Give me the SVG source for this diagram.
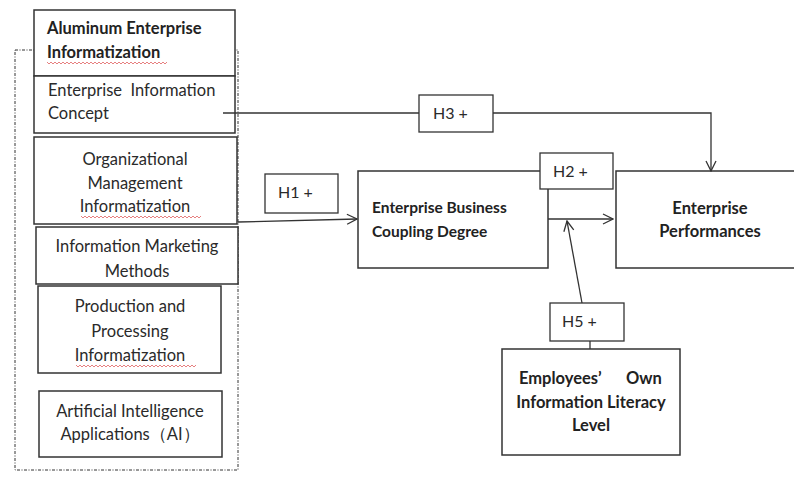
<svg xmlns="http://www.w3.org/2000/svg" width="794" height="477" viewBox="0 0 794 477">
<defs>
<marker id="arr" viewBox="0 0 12 12" refX="11" refY="6" markerWidth="12" markerHeight="12" markerUnits="userSpaceOnUse" orient="auto">
<path d="M1,1 L11,6 L1,11" fill="none" stroke="#333" stroke-width="1.3"/>
</marker>
<path id="sqg" d="M0,0 l2,2 l2,-2 l2,2 l2,-2 l2,2 l2,-2 l2,2 l2,-2 l2,2 l2,-2 l2,2 l2,-2 l2,2 l2,-2 l2,2 l2,-2 l2,2 l2,-2 l2,2 l2,-2 l2,2 l2,-2 l2,2 l2,-2 l2,2 l2,-2 l2,2 l2,-2 l2,2 l2,-2 l2,2 l2,-2 l2,2 l2,-2 l2,2 l2,-2 l2,2 l2,-2 l2,2 l2,-2 l2,2 l2,-2 l2,2 l2,-2 l2,2 l2,-2 l2,2 l2,-2 l2,2 l2,-2 l2,2 l2,-2 l2,2 l2,-2 l2,2 l2,-2 l2,2 l2,-2 l2,2 l2,-2" fill="none" stroke="#e06060" stroke-width="0.8"/>
</defs>
<style>
.box{fill:#fff;stroke:#333;stroke-width:1.5}
.lab{fill:#fff;stroke:#333;stroke-width:1.3}
.t{font-family:Lato,"Open Sans",sans-serif;font-size:16.5px;fill:#2a2a2a}
.b{font-family:Lato,"Open Sans",sans-serif;font-size:16.5px;font-weight:bold;fill:#222}
.h{font-family:Lato,"Open Sans",sans-serif;font-size:16px;fill:#2a2a2a}
.c{text-anchor:middle}
.ln{fill:none;stroke:#333;stroke-width:1.3}
</style>
<rect width="794" height="477" fill="#fff"/>
<g id="group-frame">
<rect x="15" y="50" width="223" height="420" fill="none" stroke="#333" stroke-width="1" stroke-dasharray="3,1.5,1,1.5"/>
</g>
<g id="node-aluminum">
<rect class="box" x="34" y="10" width="201" height="66"/>
<text class="b" x="47" y="34">Aluminum Enterprise</text>
<text class="b" x="47" y="58">Informatization</text>
<use href="#sqg" x="47" y="62"/>
</g>
<g id="node-concept">
<rect class="box" x="34" y="76" width="201" height="57"/>
<text class="t" x="48" y="96" xml:space="preserve">Enterprise  Information</text>
<text class="t" x="48" y="119">Concept</text>
</g>
<g id="node-organizational">
<rect class="box" x="34" y="137" width="203" height="87"/>
<text class="t c" x="135" y="165">Organizational</text>
<text class="t c" x="135" y="189">Management</text>
<text class="t c" x="135" y="212">Informatization</text>
<use href="#sqg" x="81" y="216"/>
</g>
<g id="node-marketing">
<rect class="box" x="36" y="227" width="202" height="57"/>
<text class="t c" x="137" y="252">Information Marketing</text>
<text class="t c" x="137" y="277">Methods</text>
</g>
<g id="node-production">
<rect class="box" x="38" y="286" width="183" height="87"/>
<text class="t c" x="130" y="312">Production and</text>
<text class="t c" x="130" y="337">Processing</text>
<text class="t c" x="130" y="361">Informatization</text>
<use href="#sqg" x="76" y="365"/>
</g>
<g id="node-ai">
<rect class="box" x="39" y="391" width="183" height="66"/>
<text class="t c" x="130" y="417">Artificial Intelligence</text>
<text class="t c" x="130" y="440">Applications（AI）</text>
</g>
<g id="node-coupling">
<rect class="box" x="358" y="171" width="190" height="97"/>
<text class="b" x="372" y="213" style="font-size:15.5px">Enterprise Business</text>
<text class="b" x="372" y="237" style="font-size:15.5px">Coupling Degree</text>
</g>
<g id="node-performances">
<path class="box" d="M800,171 H616 V268 H800"/>
<text class="b c" x="710" y="214">Enterprise</text>
<text class="b c" x="710" y="237">Performances</text>
</g>
<g id="node-employees">
<rect class="box" x="502" y="349" width="178" height="106"/>
<text class="b" x="519" y="384">Employees’</text>
<text class="b" x="626" y="384">Own</text>
<text class="b c" x="591" y="408">Information Literacy</text>
<text class="b c" x="591" y="431">Level</text>
</g>
<g id="connectors">
<path class="ln" d="M223,113 H419"/>
<path class="ln" d="M493,113 H711 V171" marker-end="url(#arr)"/>
<path class="ln" d="M238,222 L357,219" marker-end="url(#arr)"/>
<path class="ln" d="M548,219 H613" marker-end="url(#arr)"/>
<path class="ln" d="M582,303 L567,221" marker-end="url(#arr)"/>
<path class="ln" d="M590,341 V349"/>
</g>
<g id="label-h3">
<rect class="lab" x="419" y="95" width="74" height="37"/>
<text class="h" x="433" y="119">H3 +</text>
</g>
<g id="label-h1">
<rect class="lab" x="265" y="174" width="73" height="39"/>
<text class="h" x="278" y="198">H1 +</text>
</g>
<g id="label-h2">
<rect class="lab" x="540" y="153" width="73" height="36"/>
<text class="h" x="553" y="177">H2 +</text>
</g>
<g id="label-h5">
<rect class="lab" x="550" y="303" width="74" height="38"/>
<text class="h" x="562" y="327">H5 +</text>
</g>
</svg>
